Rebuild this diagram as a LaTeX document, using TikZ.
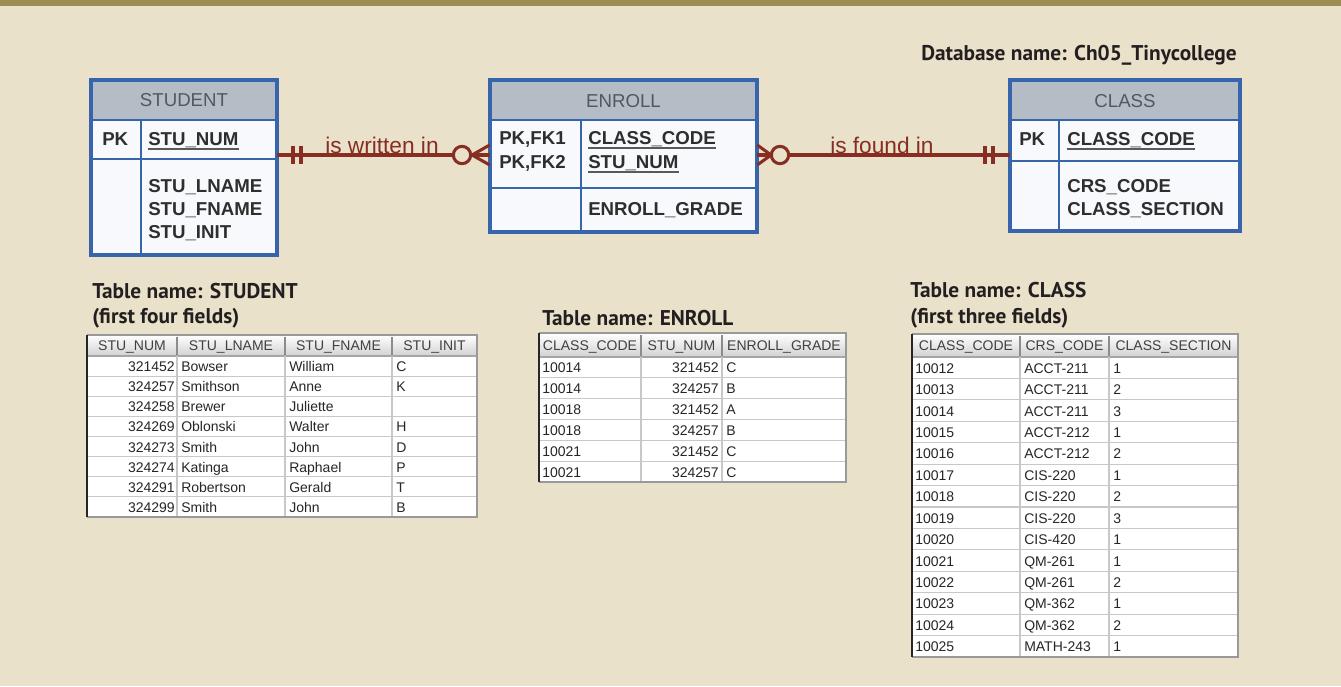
\documentclass[tikz,border=0pt]{standalone}
\usepackage{fontspec}
\setmainfont{Liberation Sans}
\newfontfamily\titlefont{PT Sans}
\usetikzlibrary{fit}
\definecolor{bg}{RGB}{233,225,201}
\definecolor{band}{RGB}{156,141,85}
\definecolor{erblue}{RGB}{55,100,170}
\definecolor{erhead}{RGB}{180,188,198}
\definecolor{erbody}{RGB}{247,249,252}
\definecolor{erhtext}{RGB}{80,88,96}
\definecolor{relc}{RGB}{135,45,35}
\definecolor{gridc}{RGB}{200,200,200}
\definecolor{ink}{RGB}{35,31,32}
\begin{document}
\begin{tikzpicture}[x=0.75pt,y=-0.75pt,
  erframe/.style={draw=erblue,line width=1.9pt,fill=erbody,inner sep=0pt},
  erline/.style={draw=erblue,line width=1.6pt},
  erhd/.style={font=\fontsize{14}{16}\selectfont,text=erhtext,inner sep=0pt,anchor=base},
  erf/.style={font=\bfseries\fontsize{14}{16}\selectfont,text=black!82,inner sep=0pt,anchor=base west},
  uline/.style={draw=black!65,line width=1.1pt},
  rel/.style={draw=relc,line width=2.3pt},
  rellab/.style={font=\fontsize{17}{19}\selectfont,text=relc,inner sep=0pt,anchor=base west},
  ttl/.style={font=\titlefont\bfseries\fontsize{16}{19}\selectfont,text=ink,inner sep=0pt,anchor=base west},
  cell/.style={font=\fontsize{10.5}{12}\selectfont,text=black!85,inner sep=0pt},
  hcell/.style={font=\fontsize{10.5}{12}\selectfont,text=black!75,inner sep=0pt,anchor=base},
  gridl/.style={draw=gridc,line width=0.8pt},
  hsep/.style={draw=black!45,line width=0.8pt},
  outl/.style={draw=black!40,line width=1pt},
  outd/.style={draw=black!85,line width=1.3pt},
]
% background
\fill[bg] (0,0) rectangle (1341,686);
\fill[band] (0,0) rectangle (1341,6);
\useasboundingbox (0,0) rectangle (1341,686);

\node[ttl,anchor=base east] (dbname) at (1237,60) {Database name: Ch05\_Tinycollege};

% ---------- STUDENT entity
\node[erframe,fit={(92,81)(276,254)}] (student) {};
\fill[erhead] (93,82) rectangle (275,120);
\draw[erline] (92,120) -- (276,120);
\draw[erline] (92,159) -- (276,159);
\draw[erline] (141,120) -- (141,254);
\draw[draw=erblue,line width=1.9pt] (student.north west) rectangle (student.south east);
\node[erhd] (student-h) at (184,106) {STUDENT};
\node[erf] (student-pk) at (102,145) {PK};
\node[erf] (student-k) at (148,145) {STU\_NUM};
\draw[uline] ([yshift=-3pt]student-k.base west) -- ([yshift=-3pt]student-k.base east);
\node[erf] (student-a1) at (148,192) {STU\_LNAME};
\node[erf] (student-a2) at (148,215) {STU\_FNAME};
\node[erf] (student-a3) at (148,238) {STU\_INIT};

% ---------- ENROLL entity
\node[erframe,fit={(491,81)(756,231)}] (enroll) {};
\fill[erhead] (492,82) rectangle (755,120);
\draw[erline] (491,120) -- (756,120);
\draw[erline] (491,188) -- (756,188);
\draw[erline] (581,120) -- (581,231);
\draw[draw=erblue,line width=1.9pt] (enroll.north west) rectangle (enroll.south east);
\node[erhd] (enroll-h) at (623.5,107) {ENROLL};
\node[erf] (enroll-pk1) at (499,144) {PK,FK1};
\node[erf] (enroll-pk2) at (499,168) {PK,FK2};
\node[erf] (enroll-k1) at (588,144) {CLASS\_CODE};
\node[erf] (enroll-k2) at (588,168) {STU\_NUM};
\draw[uline] ([yshift=-3pt]enroll-k1.base west) -- ([yshift=-3pt]enroll-k1.base east);
\draw[uline] ([yshift=-3pt]enroll-k2.base west) -- ([yshift=-3pt]enroll-k2.base east);
\node[erf] (enroll-a1) at (588,215) {ENROLL\_GRADE};

% ---------- CLASS entity
\node[erframe,fit={(1011,81)(1239,230)}] (class) {};
\fill[erhead] (1012,82) rectangle (1238,120);
\draw[erline] (1011,120) -- (1239,120);
\draw[erline] (1011,161) -- (1239,161);
\draw[erline] (1059,120) -- (1059,230);
\draw[draw=erblue,line width=1.9pt] (class.north west) rectangle (class.south east);
\node[erhd] (class-h) at (1125,107) {CLASS};
\node[erf] (class-pk) at (1019,145) {PK};
\node[erf] (class-k) at (1067,145) {CLASS\_CODE};
\draw[uline] ([yshift=-3pt]class-k.base west) -- ([yshift=-3pt]class-k.base east);
\node[erf] (class-a1) at (1067,192) {CRS\_CODE};
\node[erf] (class-a2) at (1067,215) {CLASS\_SECTION};

% ---------- relationships
\coordinate (rowy) at (0,155);
\draw[rel] (student.east |- rowy) -- (enroll.west |- rowy);
\draw[rel] (293,146) -- (293,164);
\draw[rel] (301,146) -- (301,164);
\draw[rel] (enroll.west |- 0,145) -- (472,155) -- (enroll.west |- 0,165);
\draw[rel,fill=bg] (462,155) circle[radius=6.5pt];
\node[rellab] (lab1) at (325,153.5) {is written in};

\draw[rel] (enroll.east |- rowy) -- (class.west |- rowy);
\draw[rel] (enroll.east |- 0,145) -- (771,155) -- (enroll.east |- 0,165);
\draw[rel,fill=bg] (780,155) circle[radius=6.5pt];
\draw[rel] (985,146) -- (985,164);
\draw[rel] (993,146) -- (993,164);
\node[rellab] (lab2) at (830,153.5) {is found in};

% ---------- STUDENT table
\node[ttl] (st-t1) at (92,298) {Table name: STUDENT};
\node[ttl] (st-t2) at (92,323) {(first four fields)};
\fill[white] (87,356) rectangle (477,517);
\shade[top color=white, bottom color=black!18] (87,335) rectangle (477,356);
\foreach \k in {1,...,7} \draw[gridl] (87,{356+\k*20.125}) -- (477,{356+\k*20.125});
\draw[draw=black!35,line width=0.9pt] (87,356) -- (477,356);
\foreach \xx in {177,285,392} \draw[gridl] (\xx,356) -- (\xx,517);
\foreach \xx in {177,285,392} \draw[hsep] (\xx,337) -- (\xx,355);
\draw[outl] (87,335) -- (477,335) -- (477,517) -- (87,517);
\draw[outd] (87,335) -- (87,517);
\node[hcell] (sh1) at (132,350.5) {STU\_NUM};
\node[hcell] (sh2) at (231,350.5) {STU\_LNAME};
\node[hcell] (sh3) at (338.5,350.5) {STU\_FNAME};
\node[hcell] (sh4) at (434.5,350.5) {STU\_INIT};
\foreach \a/\b/\c/\d [count=\i] in {321452/Bowser/William/C,324257/Smithson/Anne/K,324258/Brewer/Juliette/{},324269/Oblonski/Walter/H,324273/Smith/John/D,324274/Katinga/Raphael/P,324291/Robertson/Gerald/T,324299/Smith/John/B}{
  \pgfmathsetmacro\yy{356+(\i-0.5)*20.125+5.5}
  \node[cell,anchor=base east] (s-\i-a) at (175,\yy) {\a};
  \node[cell,anchor=base west] (s-\i-b) at (181,\yy) {\b};
  \node[cell,anchor=base west] (s-\i-c) at (289,\yy) {\c};
  \node[cell,anchor=base west] (s-\i-d) at (396,\yy) {\d};
}

% ---------- ENROLL table
\node[ttl] (en-t1) at (542,325) {Table name: ENROLL};
\fill[white] (539,357) rectangle (846,482);
\shade[top color=white, bottom color=black!18] (539,333) rectangle (846,357);
\foreach \k in {1,...,5} \draw[gridl] (539,{357+\k*20.833}) -- (846,{357+\k*20.833});
\draw[draw=black!35,line width=0.9pt] (539,357) -- (846,357);
\foreach \xx in {641,722} \draw[gridl] (\xx,357) -- (\xx,482);
\foreach \xx in {641,722} \draw[hsep] (\xx,335) -- (\xx,356);
\draw[outl] (539,333) -- (846,333) -- (846,482) -- (539,482);
\draw[outd] (539,333) -- (539,482);
\node[hcell] (eh1) at (590,350.5) {CLASS\_CODE};
\node[hcell] (eh2) at (681.5,350.5) {STU\_NUM};
\node[hcell] (eh3) at (784,350.5) {ENROLL\_GRADE};
\foreach \a/\b/\c [count=\i] in {10014/321452/C,10014/324257/B,10018/321452/A,10018/324257/B,10021/321452/C,10021/324257/C}{
  \pgfmathsetmacro\yy{357+(\i-0.5)*20.833+5.5}
  \node[cell,anchor=base west] (e-\i-a) at (542,\yy) {\a};
  \node[cell,anchor=base east] (e-\i-b) at (719,\yy) {\b};
  \node[cell,anchor=base west] (e-\i-c) at (726,\yy) {\c};
}

% ---------- CLASS table
\node[ttl] (cl-t1) at (910,297) {Table name: CLASS};
\node[ttl] (cl-t2) at (910,323) {(first three fields)};
\fill[white] (912,357) rectangle (1238,657);
\shade[top color=white, bottom color=black!18] (912,334) rectangle (1238,357);
\foreach \k in {1,...,13} \draw[gridl] (912,{357+\k*21.4286}) -- (1238,{357+\k*21.4286});
\draw[draw=black!35,line width=0.9pt] (912,357) -- (1238,357);
\foreach \xx in {1020,1109} \draw[gridl] (\xx,357) -- (\xx,657);
\foreach \xx in {1020,1109} \draw[hsep] (\xx,336) -- (\xx,356);
\draw[outl] (912,334) -- (1238,334) -- (1238,657) -- (912,657);
\draw[outd] (912,334) -- (912,657);
\node[hcell] (ch1) at (966,350.5) {CLASS\_CODE};
\node[hcell] (ch2) at (1064.5,350.5) {CRS\_CODE};
\node[hcell] (ch3) at (1173.5,350.5) {CLASS\_SECTION};
\foreach \a/\b/\c [count=\i] in {10012/ACCT-211/1,10013/ACCT-211/2,10014/ACCT-211/3,10015/ACCT-212/1,10016/ACCT-212/2,10017/CIS-220/1,10018/CIS-220/2,10019/CIS-220/3,10020/CIS-420/1,10021/QM-261/1,10022/QM-261/2,10023/QM-362/1,10024/QM-362/2,10025/MATH-243/1}{
  \pgfmathsetmacro\yy{357+(\i-0.5)*21.4286+5.5}
  \node[cell,anchor=base west] (c-\i-a) at (915,\yy) {\a};
  \node[cell,anchor=base west] (c-\i-b) at (1024,\yy) {\b};
  \node[cell,anchor=base west] (c-\i-c) at (1113,\yy) {\c};
}
\end{tikzpicture}
\end{document}
